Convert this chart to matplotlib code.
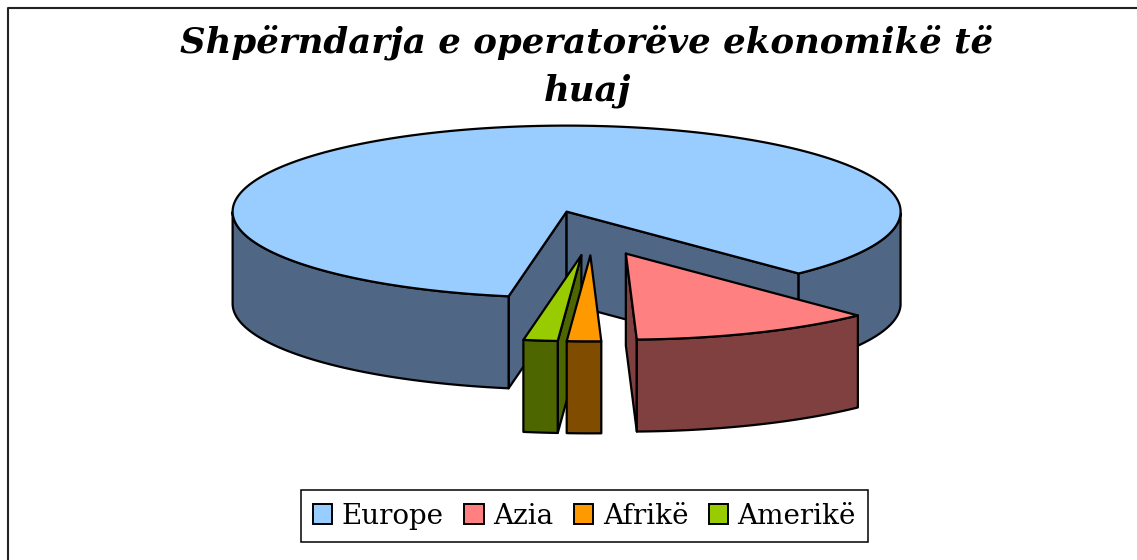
#!/usr/bin/env python3

# exploded 3d pie, drawn by hand since matplotlib has no such pie
import matplotlib
matplotlib.use('Agg')
import matplotlib.pyplot as plt
from matplotlib.patches import Polygon, Patch
from matplotlib.lines import Line2D
import numpy as np

title = 'Shpërndarja e operatorëve ekonomikë të\nhuaj'
labels = ['Europe', 'Azia', 'Afrikë', 'Amerikë']
values = [85.0, 11.7, 1.65, 1.65]
top_colors = ['#99CCFF', '#FF8080', '#FF9900', '#99CC00']
side_colors = ['#4F6684', '#804040', '#804D00', '#4D6600']

# geometry in pixels
cx, cy = 592, 233
rx, ry = 334, 86
depth = 92
explode = 0.26
start_angle = 260  # Europe starts here and runs clockwise

def ell(t, center, drop = 0):
	"""Point(s) on the pie ellipse for angle t (degrees)"""
	t = np.radians(t)
	return np.column_stack([center[0] + rx * np.cos(t), center[1] - ry * np.sin(t) + drop])

def wall(ax, pts, color):
	"""Draw a vertical face hanging under a line of top points"""
	low = pts + [0, depth]
	ax.add_patch(Polygon(np.vstack([pts, low[::-1]]), closed = True, fc = color, ec = 'black', lw = 1.6, joinstyle = 'round'))

def draw_slice(ax, a0, a1, top, side):
	"""Draw one slice, a0 > a1 going clockwise"""
	mid = np.radians((a0 + a1) / 2)
	center = np.array([cx + explode * rx * np.cos(mid), cy - explode * ry * np.sin(mid)])
	apex = center.reshape(1, 2)

	# flat faces, only those turned to the viewer
	if np.sin(np.radians(a0 + 90)) < 0:
		wall(ax, np.vstack([apex, ell(np.array([a0]), center)]), side)
	if np.sin(np.radians(a1 - 90)) < 0:
		wall(ax, np.vstack([apex, ell(np.array([a1]), center)]), side)

	# outer rim, front half only
	t = np.linspace(a0, a1, 300)
	for k in range(-2, 2):
		lo, hi = 180 + 360 * k, 360 + 360 * k
		seg = t[(t >= lo) & (t <= hi)]
		if len(seg) > 1:
			wall(ax, ell(seg, center), side)

	# top face
	ax.add_patch(Polygon(np.vstack([apex, ell(t, center)]), closed = True, fc = top, ec = 'black', lw = 1.6, joinstyle = 'round'))

fig = plt.figure(figsize = (11.37, 5.6), dpi = 100)
ax = fig.add_axes([0, 0, 1, 1])
ax.set_xlim(0, 1137)
ax.set_ylim(560, 0)
ax.axis('off')

# chart border, cut off by the page on right and bottom
ax.add_line(Line2D([8, 8, 1137], [560, 8, 8], color = '#222222', lw = 1.5))

ax.text(587, 66, title, ha = 'center', va = 'center', family = 'DejaVu Serif', style = 'italic', weight = 'bold', fontsize = 25.6, linespacing = 1.5)

# slice angles, running clockwise from the start angle
edges = start_angle - 360 * np.cumsum([0] + values) / np.sum(values)
spans = list(zip(edges[:-1], edges[1:]))
for i in [0, 1, 3, 2]:
	draw_slice(ax, spans[i][0], spans[i][1], top_colors[i], side_colors[i])

handles = [Patch(fc = c, ec = 'black', lw = 1.4) for c in top_colors]
leg = ax.legend(handles, labels, ncol = 4, loc = 'center', bbox_to_anchor = (584.5, 516), bbox_transform = ax.transData,
	prop = {'family': 'DejaVu Serif', 'size': 20}, frameon = True, fancybox = False, edgecolor = 'black', framealpha = 1,
	handlelength = 0.7, handleheight = 0.7, handletextpad = 0.33, columnspacing = 0.75, borderpad = 0.45, borderaxespad = 0)
leg.get_frame().set_linewidth(1.1)

fig.savefig('out.png', dpi = 100)
